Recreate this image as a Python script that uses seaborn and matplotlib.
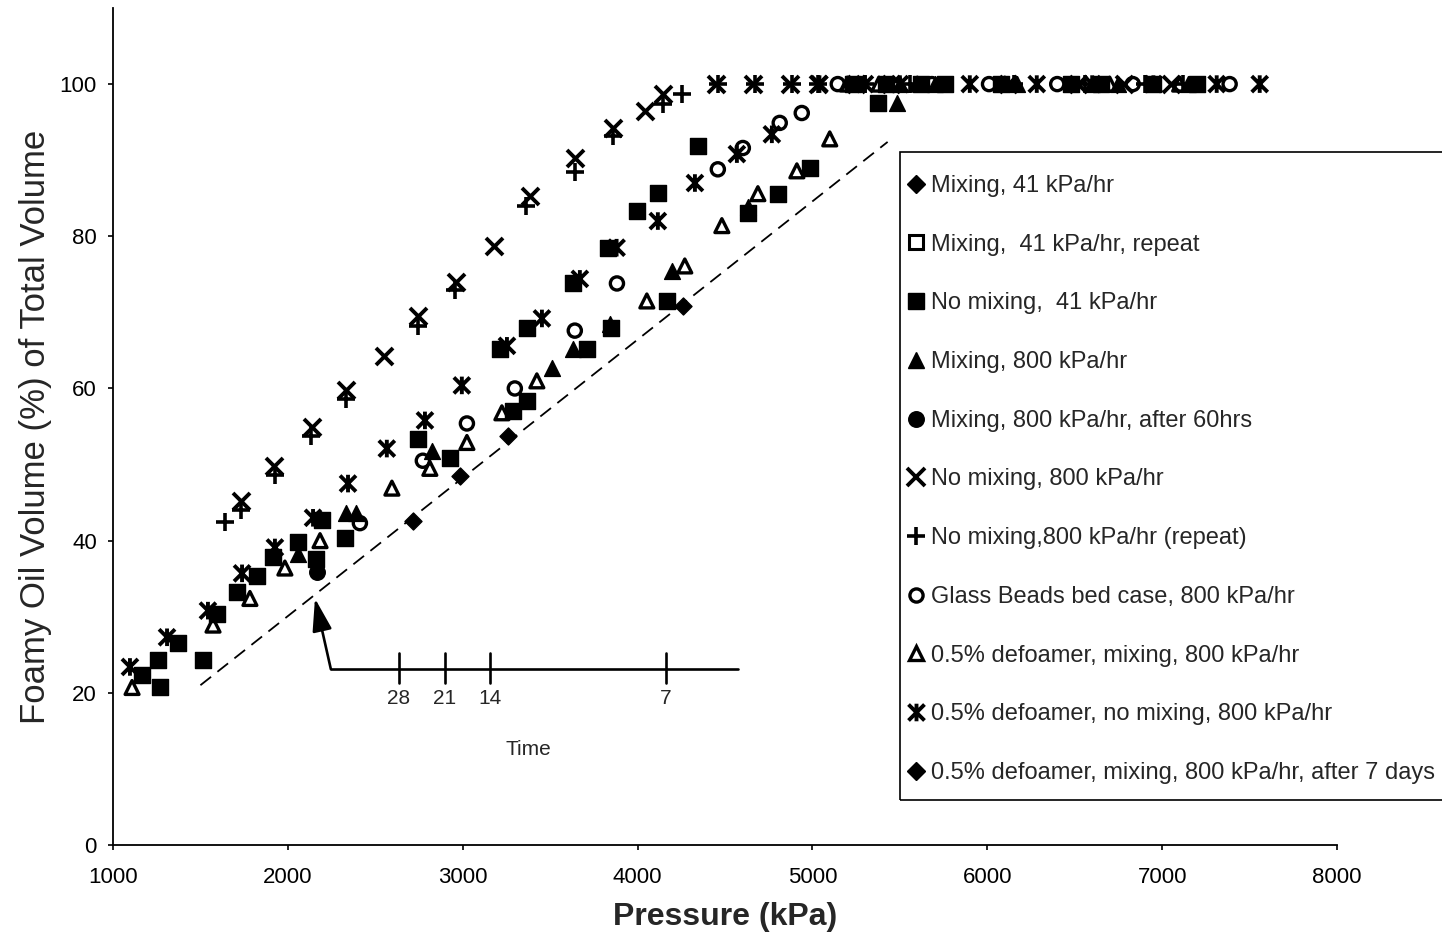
import matplotlib
matplotlib.use("Agg")
import matplotlib.pyplot as plt
import seaborn as sns
from matplotlib.path import Path
from matplotlib.lines import Line2D
from matplotlib.patches import Rectangle

# ---------------------------------------------------------------
# Foamy oil volume (% of total volume) versus pressure (kPa)
# ---------------------------------------------------------------
mix41_p = [2715, 2984, 3258]
mix41_v = [42.6, 48.5, 53.8]

mix41_rep_p = []
mix41_rep_v = []

nomix41_p = [1166, 1257, 1269, 1372, 1515, 1595, 1709, 1823, 1915, 2058, 2160,
             2195, 2326, 2744, 2927, 3213, 3287, 3367, 3367, 3630, 3710, 3830,
             3850, 3996, 4116, 4167, 4345, 4631, 4802, 4985, 5230, 5374, 5420,
             5620, 5760, 6080, 6480, 6650, 6950, 7200]
nomix41_v = [22.3, 24.3, 20.7, 26.5, 24.3, 30.4, 33.2, 35.4, 37.8, 39.8, 37.6,
             42.7, 40.4, 53.4, 50.9, 65.2, 57.1, 68.0, 58.4, 73.9, 65.2, 78.5,
             68.0, 83.3, 85.7, 71.5, 91.9, 83.1, 85.6, 89.0, 100, 97.5, 100,
             100, 100, 100, 100, 100, 100, 100]

mix800_p = [2058, 2330, 2390, 2824, 3510, 3630, 3842, 4196, 4631, 5482, 5500,
            5700, 6170, 6600, 6750, 7150]
mix800_v = [38.3, 43.6, 43.6, 51.8, 62.7, 65.2, 68.5, 75.5, 83.8, 97.5, 100,
            100, 100, 100, 100, 100]

mix800_60h_p = [2168]
mix800_60h_v = [35.9]

nomix800_p = [1730, 1920, 2140, 2335, 2548, 2745, 2960, 3180, 3385, 3645, 3860,
              4042, 4145, 4450, 4660, 4870, 5030, 5250, 5450, 6120, 6520, 6780,
              7050]
nomix800_v = [45.2, 49.8, 55.0, 59.8, 64.3, 69.5, 74.0, 78.7, 85.3, 90.3, 94.2,
              96.5, 98.7, 100, 100, 100, 100, 100, 100, 100, 100, 100, 100]

nomix800_rep_p = [1640, 1730, 1926, 2130, 2330, 2744, 2955, 3360, 3645, 3860,
                  4145, 4253, 4459, 4671, 4882, 5030, 5300, 5560, 6150, 6560,
                  6900, 7120]
nomix800_rep_v = [42.4, 44.0, 48.6, 53.8, 58.6, 68.2, 73.0, 84.0, 88.4, 93.2,
                  97.4, 98.7, 100, 100, 100, 100, 100, 100, 100, 100, 100, 100]

beads_p = [2412, 2772, 3024, 3298, 3641, 3882, 4459, 4602, 4813, 4939, 5145,
           5683, 6010, 6400, 6832, 7386]
beads_v = [42.3, 50.5, 55.4, 60.0, 67.6, 73.8, 88.8, 91.6, 94.9, 96.2, 100,
           100, 100, 100, 100, 100]

defoam_mix_p = [1109, 1572, 1783, 1983, 2184, 2595, 2812, 3024, 3224, 3424,
                4053, 4270, 4482, 4688, 4911, 5099, 5200, 5380, 5600, 6100,
                6700, 7100]
defoam_mix_v = [20.7, 28.9, 32.4, 36.4, 40.0, 46.9, 49.5, 52.9, 56.8, 61.0,
                71.5, 76.1, 81.4, 85.6, 88.6, 92.8, 100, 100, 100, 100, 100, 100]

defoam_nomix_p = [1097, 1309, 1543, 1738, 1926, 2144, 2344, 2566, 2784, 2995,
                  3253, 3453, 3670, 3880, 4116, 4328, 4568, 4768, 5040, 5300,
                  5500, 5900, 6283, 6600, 6950, 7312, 7558]
defoam_nomix_v = [23.4, 27.3, 30.8, 35.7, 39.1, 43.0, 47.5, 52.1, 55.8, 60.4,
                  65.6, 69.2, 74.4, 78.5, 82.0, 87.0, 90.8, 93.4, 100, 100,
                  100, 100, 100, 100, 100, 100, 100]

defoam_mix_7d_p = [4259]
defoam_mix_7d_v = [70.9]

series_labels = [
    "Mixing, 41 kPa/hr",
    "Mixing,  41 kPa/hr, repeat",
    "No mixing,  41 kPa/hr",
    "Mixing, 800 kPa/hr",
    "Mixing, 800 kPa/hr, after 60hrs",
    "No mixing, 800 kPa/hr",
    "No mixing,800 kPa/hr (repeat)",
    "Glass Beads bed case, 800 kPa/hr",
    "0.5% defoamer, mixing, 800 kPa/hr",
    "0.5% defoamer, no mixing, 800 kPa/hr",
    "0.5% defoamer, mixing, 800 kPa/hr, after 7 days",
]
series_data = [
    (mix41_p, mix41_v), (mix41_rep_p, mix41_rep_v), (nomix41_p, nomix41_v),
    (mix800_p, mix800_v), (mix800_60h_p, mix800_60h_v),
    (nomix800_p, nomix800_v), (nomix800_rep_p, nomix800_rep_v),
    (beads_p, beads_v), (defoam_mix_p, defoam_mix_v),
    (defoam_nomix_p, defoam_nomix_v), (defoam_mix_7d_p, defoam_mix_7d_v),
]

# Dashed reference line and the elapsed-time scale (days)
guide_p = [1500, 5430]
guide_v = [21.0, 92.4]
time_days = [28, 21, 14, 7]
time_p = [2635, 2898, 3156, 4162]
time_axis_p = [2246, 4573]
time_axis_v = 23.1
arrow_tip = (2155, 32.4)
time_title_pos = (3373, 12.5)

# ---------------------------------------------------------------
sns.set_style("ticks")
plt.rcParams["font.family"] = ["Liberation Sans", "DejaVu Sans"]

ASTERISK = Path([(-0.5, -0.5), (0.5, 0.5), (-0.5, 0.5), (0.5, -0.5),
                 (0, -0.55), (0, 0.55)],
                [Path.MOVETO, Path.LINETO] * 3)

# marker, area, filled?, line art?, edge width
styles = [
    ("D", 75, True, False, 1.0),
    ("s", 95, False, False, 2.2),
    ("s", 130, True, False, 1.0),
    ("^", 130, True, False, 1.0),
    ("o", 125, True, False, 1.0),
    ("x", 150, False, True, 2.8),
    ("+", 160, False, True, 2.6),
    ("o", 90, False, False, 2.4),
    ("^", 100, False, False, 2.4),
    (ASTERISK, 160, False, False, 2.8),
    ("D", 75, True, False, 1.0),
]

fig = plt.figure(figsize=(14.42, 9.5), dpi=100)
ax = fig.add_axes([113 / 1442, 1 - 845 / 950, (1337 - 113) / 1442, (845 - 8) / 950])

for (p, v), (mk, s, filled, lineart, lw) in zip(series_data, styles):
    if len(p) == 0:
        continue
    if lineart:
        sns.scatterplot(x=p, y=v, marker=mk, s=s, color="black",
                        linewidth=lw, legend=False, ax=ax, zorder=3)
    else:
        sns.scatterplot(x=p, y=v, marker=mk, s=s, color="black",
                        facecolor="black" if filled else "none",
                        edgecolor="black", linewidth=lw, legend=False,
                        ax=ax, zorder=3)

# Dashed guide line
ax.plot(guide_p, guide_v, ls=(0, (7.5, 4.5)), lw=1.3, color="black", zorder=2)

# Time scale with arrow
ax.plot(time_axis_p, [time_axis_v, time_axis_v], lw=1.9, color="black")
for p, d in zip(time_p, time_days):
    ax.plot([p, p], [time_axis_v - 1.8, time_axis_v + 2.1], lw=1.9, color="black")
    ax.text(p, 19.3, str(d), ha="center", va="center", fontsize=15)
ax.text(*time_title_pos, "Time", ha="center", va="center", fontsize=15)
ax.annotate("", xy=arrow_tip, xytext=(time_axis_p[0], time_axis_v),
            arrowprops=dict(arrowstyle="-|>,head_length=1.0,head_width=0.3",
                            mutation_scale=20, lw=1.9, color="black",
                            shrinkA=0, shrinkB=0))

ax.set_xlim(1000, 8000)
ax.set_ylim(0, 110)
ax.set_xticks(range(1000, 8001, 1000))
ax.set_yticks(range(0, 101, 20))
ax.tick_params(direction="out", length=3.6, width=1.2, labelsize=16,
               colors="black")
ax.tick_params(axis="x", pad=12)
ax.tick_params(axis="y", pad=8)
sns.despine(ax=ax)
for side in ("left", "bottom"):
    ax.spines[side].set_linewidth(1.3)
    ax.spines[side].set_color("black")

ax.set_ylabel("Foamy Oil Volume (%) of Total Volume", fontsize=25)
ax.yaxis.set_label_coords(-0.05, 0.5)
ax.set_xlabel("Pressure (kPa)", fontsize=23, fontweight="bold")
ax.xaxis.set_label_coords(0.5, -0.068)

# Legend
handles = []
for mk, s, filled, lineart, lw in styles:
    ms = s ** 0.5
    if lineart:
        h = Line2D([], [], ls="none", marker=mk, markersize=ms, color="black",
                   markeredgewidth=lw)
    else:
        h = Line2D([], [], ls="none", marker=mk, markersize=ms,
                   markerfacecolor="black" if filled else "none",
                   markeredgecolor="black", markeredgewidth=lw)
    handles.append(h)

fig.legend(handles, series_labels, loc="center left",
           bbox_to_anchor=(906.6 / 1442, 1 - 479.5 / 950),
           frameon=False, fontsize=17, handlelength=0.8, handletextpad=0.25,
           labelspacing=1.555, borderpad=0, borderaxespad=0)
fig.add_artist(Rectangle((900 / 1442, 1 - 800 / 950), 0.5, (800 - 152) / 950,
                         transform=fig.transFigure, fill=False,
                         edgecolor="black", linewidth=1.2))

fig.savefig("out.png", dpi=100)
